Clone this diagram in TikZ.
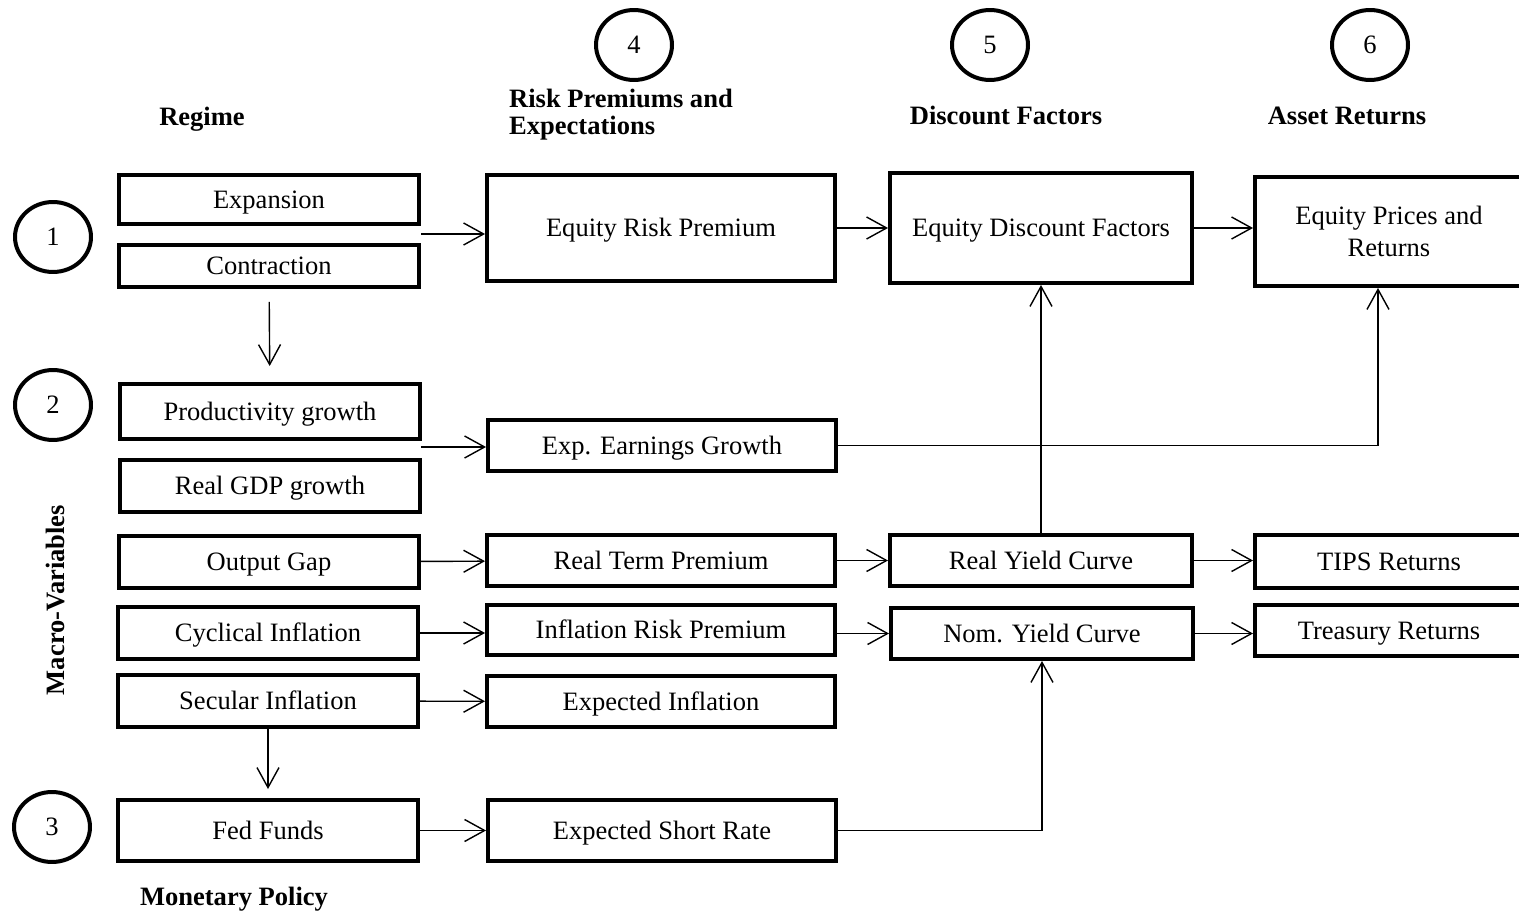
\documentclass[tikz,border=0pt]{standalone}
\usepackage{fontspec}
\setmainfont{Liberation Serif}
\usetikzlibrary{shapes.geometric, arrows.meta, positioning}

\begin{document}
\begin{tikzpicture}[
    x=0.02cm, y=-0.02cm,
    font=\fontsize{15.1}{18.5}\selectfont,
    oneline/.style={text height=1.2em, text depth=0.2em},
    box/.style={rectangle, draw=black, line width=0.08cm, inner sep=0pt, align=center, oneline},
    macrobox/.style={box, minimum width=6.0cm},
    premiumbox/.style={box, minimum width=6.96cm},
    discountbox/.style={box, minimum width=6.04cm},
    returnbox/.style={box, minimum width=5.36cm},
    stage/.style={ellipse, draw=black, line width=0.08cm, minimum width=1.52cm, minimum height=1.4cm, inner sep=0pt},
    heading/.style={font=\fontsize{15.1}{15.3}\selectfont\bfseries, align=left, oneline},
    link/.style={-{Straight Barb[length=0.4cm, width=0.44cm]}, line width=0.8pt}
]
    \useasboundingbox (0,0) rectangle (1519,912);
    \clip (0,0) rectangle (1519,912);

    % Stage numbers
    \node[stage] (s1) at (53,237) {1};
    \node[stage] (s2) at (53,405) {2};
    \node[stage] (s3) at (52,827) {3};
    \node[stage] (s4) at (634,45) {4};
    \node[stage] (s5) at (990,45) {5};
    \node[stage] (s6) at (1370,45) {6};

    % Headings
    \node[heading] (hregime) at (202,117) {Regime};
    \node[heading, anchor=west, text height=, text depth=] (hrisk) at (503,115) {Risk Premiums and\\Expectations};
    \node[heading] (hdisc) at (1006,116) {Discount Factors};
    \node[heading] (hasset) at (1347,116) {Asset Returns};
    \node[heading, rotate=90] (hmacro) at (56,600) {Macro-Variables};
    \node[heading] (hmon) at (234,897) {Monetary Policy};

    % Regime and macro-variables
    \node[macrobox, minimum height=0.98cm] (exp) at (269,199.5) {Expansion};
    \node[macrobox, minimum height=0.84cm] (con) at (269,266) {Contraction};
    \node[macrobox, minimum height=1.1cm] (prod) at (270,411.5) {Productivity growth};
    \node[macrobox, minimum height=1.04cm] (gdp) at (270,486) {Real GDP growth};
    \node[macrobox, minimum height=1.04cm] (gap) at (269,562) {Output Gap};
    \node[macrobox, minimum height=1.04cm] (cyc) at (268,633) {Cyclical Inflation};
    \node[macrobox, minimum height=1.04cm] (sec) at (268,701) {Secular Inflation};
    \node[macrobox, minimum height=1.22cm] (fed) at (268,830.5) {Fed Funds};

    % Risk premiums and expectations
    \node[premiumbox, minimum height=2.12cm] (erp) at (661,228) {Equity Risk Premium};
    \node[premiumbox, minimum height=1.02cm] (eeg) at (662,445.5) {Exp. Earnings Growth};
    \node[premiumbox, minimum height=1.02cm] (rtp) at (661,560.5) {Real Term Premium};
    \node[premiumbox, minimum height=1.0cm] (irp) at (661,630) {Inflation Risk Premium};
    \node[premiumbox, minimum height=1.02cm] (ei) at (661,701.5) {Expected Inflation};
    \node[premiumbox, minimum height=1.22cm] (esr) at (662,830.5) {Expected Short Rate};

    % Discount factors
    \node[discountbox, minimum height=2.2cm] (edf) at (1041,228) {Equity Discount Factors};
    \node[discountbox, minimum height=1.02cm] (ryc) at (1041,560.5) {Real Yield Curve};
    \node[discountbox, minimum height=1.02cm] (nyc) at (1042,633.5) {Nom. Yield Curve};

    % Asset returns
    \node[returnbox, minimum height=2.18cm, text height=, text depth=] (epr) at (1389,231.5) {Equity Prices and\\Returns};
    \node[returnbox, minimum height=1.06cm] (tips) at (1389,561.5) {TIPS Returns};
    \node[returnbox, minimum height=1.02cm] (treas) at (1389,630.5) {Treasury Returns};

    % Links between columns
    \coordinate (regout) at (421,234);
    \coordinate (growout) at (421,447);
    \draw[link] (regout) -- (regout -| erp.west);
    \draw[link, shorten <=0.26cm, shorten >=0.32cm] (con) -- (prod);
    \draw[link] (growout) -- (growout -| eeg.west);
    \draw[link] (gap) -- (rtp);
    \draw[link] (cyc.east) -- (cyc.east -| irp.west);
    \draw[link] (sec) -- (ei);
    \draw[link, shorten >=0.18cm] (sec) -- (fed);
    \draw[link] (fed) -- (esr);

    \draw[link] (erp.east) -- (erp.east -| edf.west);
    \draw[link] (edf) -- (edf -| epr.west);
    \draw[link] (eeg.east) -| ([xshift=-0.22cm]epr.south);
    \draw[link] (ryc) -- (edf);
    \draw[link] (rtp) -- (ryc);
    \draw[link] (nyc.west -| irp.east) -- (nyc.west);
    \draw[link] (ryc.east) -- (ryc.east -| tips.west);
    \draw[link] (nyc.east) -- (nyc.east -| treas.west);
    \draw[link] (esr.east) -| (nyc.south);
\end{tikzpicture}
\end{document}
